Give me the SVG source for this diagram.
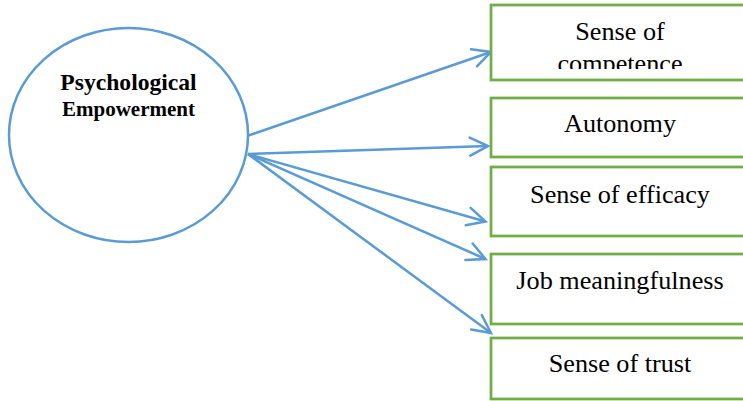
<svg xmlns="http://www.w3.org/2000/svg" width="743" height="401" viewBox="0 0 743 401">
<style>
.conn{stroke:#5B9BD5;stroke-width:2.5;fill:none;marker-end:url(#arr)}
.box{fill:#fff;stroke:#70AD47;stroke-width:2.75}
.lbl{font-family:"Liberation Serif","Times New Roman",serif;font-size:26.2px;fill:#000;text-anchor:middle}
.title{font-family:"Liberation Serif","Times New Roman",serif;font-weight:bold;fill:#000;text-anchor:middle}
</style>
<defs>
<marker id="arr" markerUnits="userSpaceOnUse" viewBox="-22 -12 24 24" refX="0" refY="0" markerWidth="24" markerHeight="24" orient="auto" overflow="visible">
<path d="M-18,-9 L0,0 L-18,9" fill="none" stroke="#5B9BD5" stroke-width="2.5" stroke-linecap="round" stroke-linejoin="miter"/>
</marker>
<clipPath id="clip1"><rect x="491" y="5" width="260" height="64"/></clipPath>
</defs>
<rect width="743" height="401" fill="#fff"/>
<g id="connectors">
<line class="conn" x1="247" y1="136" x2="491" y2="52"/>
<line class="conn" x1="248" y1="154" x2="488" y2="146"/>
<line class="conn" x1="248" y1="154" x2="485.5" y2="221.5"/>
<line class="conn" x1="248" y1="154" x2="485.5" y2="259"/>
<line class="conn" x1="248" y1="154" x2="491" y2="333"/>
</g>
<g id="psychological-empowerment">
<ellipse cx="128.5" cy="135" rx="119.5" ry="107" fill="#fff" stroke="#5B9BD5" stroke-width="2.5"/>
<text class="title" x="128.5" y="90" font-size="23.6px">Psychological</text>
<text class="title" x="128.5" y="116" font-size="21px">Empowerment</text>
</g>
<g id="sense-of-competence">
<rect class="box" x="491" y="5" width="258" height="75"/>
<g clip-path="url(#clip1)">
<text class="lbl" x="620" y="40">Sense of</text>
<text class="lbl" x="620" y="72">competence</text>
</g>
</g>
<g id="autonomy">
<rect class="box" x="491" y="98" width="258" height="59"/>
<text class="lbl" x="620" y="132">Autonomy</text>
</g>
<g id="sense-of-efficacy">
<rect class="box" x="491" y="167" width="258" height="69"/>
<text class="lbl" x="620" y="203">Sense of efficacy</text>
</g>
<g id="job-meaningfulness">
<rect class="box" x="491" y="254" width="258" height="70"/>
<text class="lbl" x="620" y="289">Job meaningfulness</text>
</g>
<g id="sense-of-trust">
<rect class="box" x="491" y="338" width="258" height="61"/>
<text class="lbl" x="620" y="372">Sense of trust</text>
</g>
</svg>
